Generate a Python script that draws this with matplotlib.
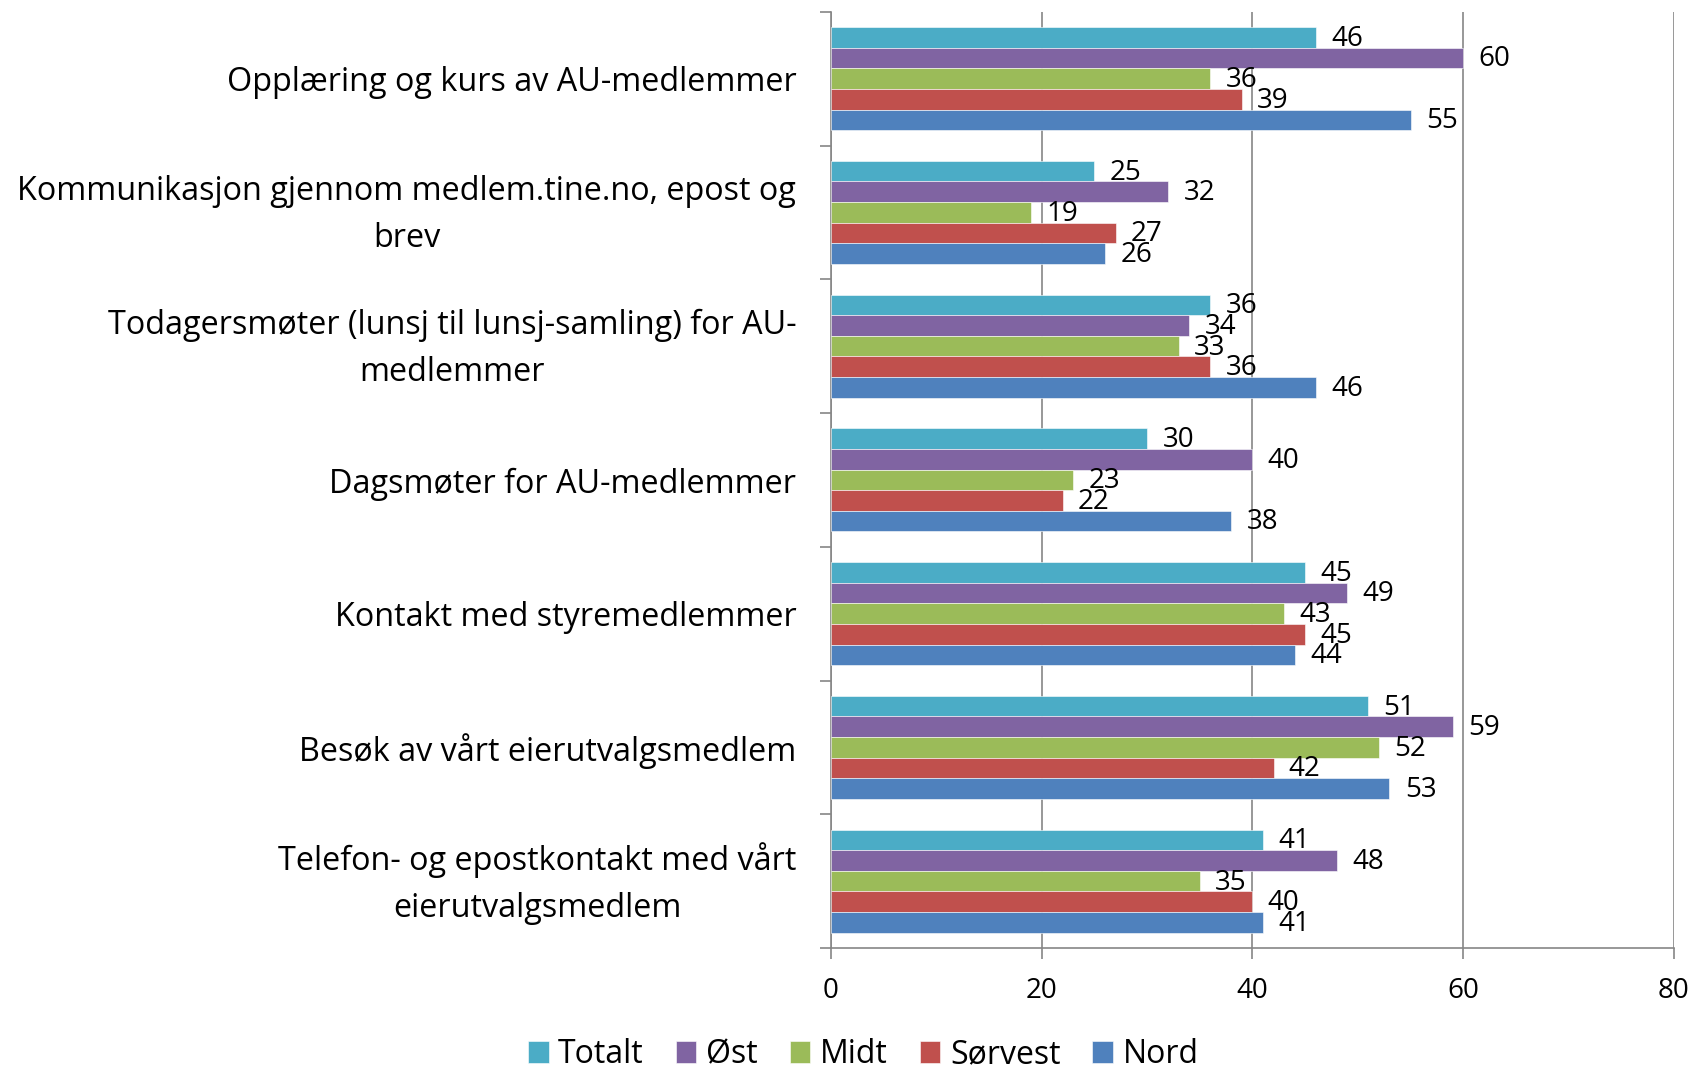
import numpy as np
import matplotlib
matplotlib.use('Agg')
import matplotlib.pyplot as plt
import matplotlib.transforms as mtransforms

plt.rcParams['font.family'] = ['Open Sans', 'DejaVu Sans']

# ── data ─────────────────────────────────────────────
categories = [
    "Opplæring og kurs av AU-medlemmer",
    "Kommunikasjon gjennom medlem.tine.no, epost og\nbrev",
    "Todagersmøter (lunsj til lunsj-samling) for AU-\nmedlemmer",
    "Dagsmøter for AU-medlemmer",
    "Kontakt med styremedlemmer",
    "Besøk av vårt eierutvalgsmedlem",
    "Telefon- og epostkontakt med vårt\neierutvalgsmedlem",
]
series = ["Totalt", "Øst", "Midt", "Sørvest", "Nord"]
totalt = [46, 25, 36, 30, 45, 51, 41]
ost = [60, 32, 34, 40, 49, 59, 48]
midt = [36, 19, 33, 23, 43, 52, 35]
sorvest = [39, 27, 36, 22, 45, 42, 40]
nord = [55, 26, 46, 38, 44, 53, 41]
values = [totalt, ost, midt, sorvest, nord]
colors = ["#4BACC6", "#8064A2", "#9BBB59", "#C0504D", "#4F81BD"]
xticks = [0, 20, 40, 60, 80]

# ── figure ───────────────────────────────────────────
fig = plt.figure(figsize=(16.96, 10.70), dpi=100)
ax = fig.add_axes([0.490, 0.114, 0.497, 0.875])

n = len(series)
bh = 0.154
y0 = np.arange(len(categories))
for j, (name, vals, c) in enumerate(zip(series, values, colors)):
    ys = y0 - n * bh / 2 + (j + 0.5) * bh
    bars = ax.barh(ys, vals, height=bh, color=c, label=name,
                   edgecolor='white', linewidth=0.4, zorder=3)
    for b, v in zip(bars, vals):
        ax.annotate(str(v), (b.get_width(), b.get_y() + b.get_height() / 2),
                    xytext=(11, -1), textcoords='offset points',
                    va='center', ha='left', fontsize=20, zorder=4)

ax.set_xlim(0, 80)
ax.set_ylim(len(categories) - 0.5, -0.5)
ax.set_xticks(xticks)
ax.set_xticklabels([str(t) for t in xticks], fontsize=20)
ax.tick_params(axis='x', direction='out', length=8, color='#868686',
               pad=13, width=1.2)

ax.set_yticks(y0)
ax.set_yticklabels(categories, fontsize=23.3, ha='right',
                   multialignment='center', linespacing=1.55)
ax.tick_params(axis='y', which='major', length=0, pad=25)
# two-line labels sit a bit higher in the original
shift = mtransforms.ScaledTranslation(0, 6 / 72, fig.dpi_scale_trans)
for lab in ax.get_yticklabels():
    if '\n' in lab.get_text():
        lab.set_transform(lab.get_transform() + shift)
ax.set_yticks(np.arange(-0.5, len(categories) + 0.5, 1), minor=True)
ax.tick_params(axis='y', which='minor', length=8, direction='out',
               color='#868686', width=1.2)

ax.grid(axis='x', color='#868686', linewidth=1.2, zorder=0)
for s in ['top', 'right']:
    ax.spines[s].set_visible(False)
for s in ['left', 'bottom']:
    ax.spines[s].set_color('#868686')
    ax.spines[s].set_linewidth(1.2)

fig.legend(loc='lower center', bbox_to_anchor=(0.509, -0.028), ncol=5,
           frameon=False, fontsize=23, handlelength=0.65, handleheight=0.65,
           handletextpad=0.3, columnspacing=1.0)

fig.savefig('out.png', dpi=100)
